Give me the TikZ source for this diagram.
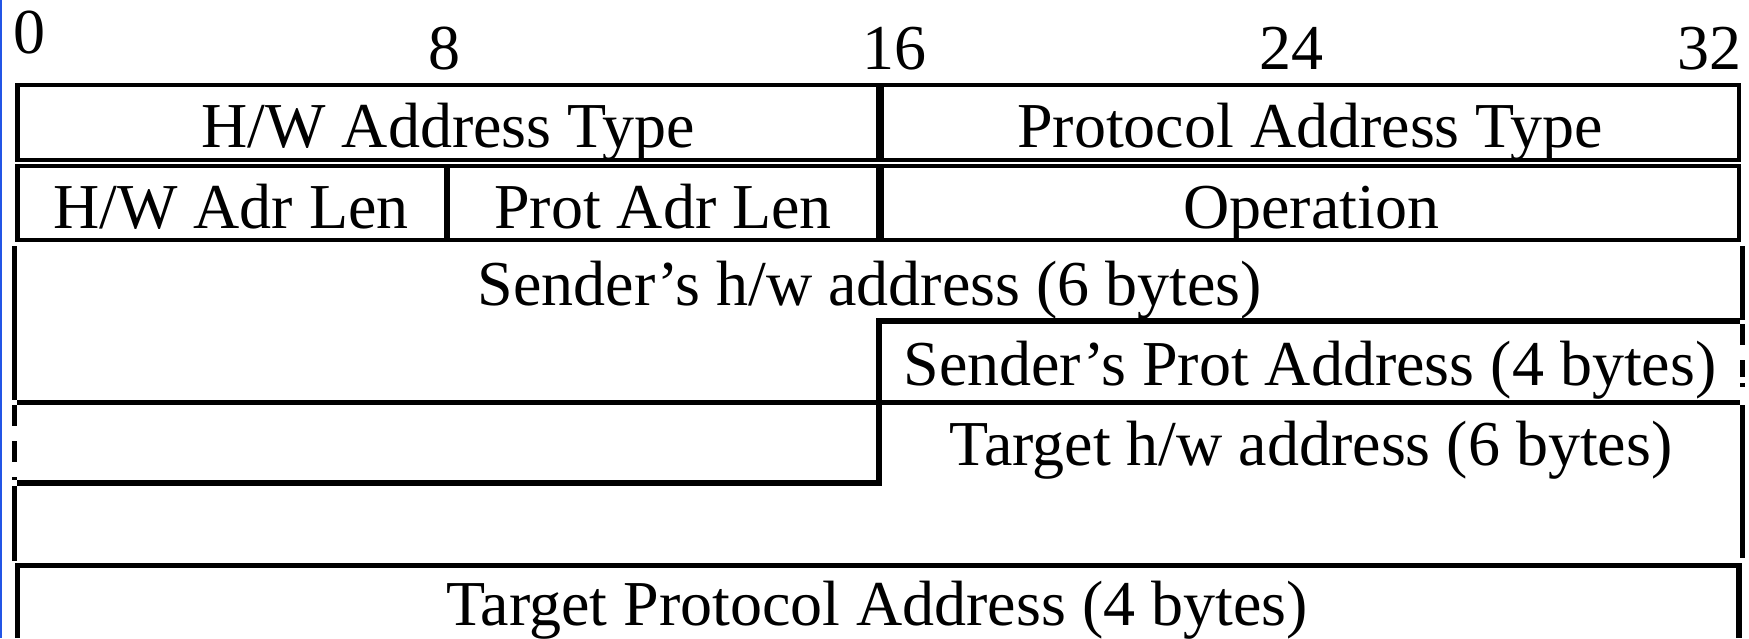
\documentclass[tikz,border=0pt]{standalone}
\usepackage{fontspec}
\setmainfont{Liberation Serif}
\usepackage{tikz, xcolor}
\definecolor{slideblue}{RGB}{35,85,230}

\begin{document}
\begin{tikzpicture}[x=0.01cm, y=-0.01cm,
    font=\fontsize{18.2}{22}\selectfont,
    boxline/.style={line width=1.3pt},
    edgeline/.style={line width=1.5pt},
    lbl/.style={anchor=base, inner sep=0pt}]
    \useasboundingbox (0, 0) rectangle (1749, 638);

    \draw [color=slideblue, line width=0.6pt] (1, 0) to (1, 638);

    \node [lbl, anchor=base west] (bit0) at (13, 53) {0};
    \node [lbl] (bit8) at (444, 69) {8};
    \node [lbl] (bit16) at (894, 69) {16};
    \node [lbl] (bit24) at (1291, 69) {24};
    \node [lbl] (bit32) at (1709, 69) {32};

    \draw [boxline] (17.5, 85) rectangle (878, 160);
    \draw [boxline] (882, 85) rectangle (1739, 160);
    \draw [boxline] (17.5, 166) rectangle (446, 240);
    \draw [boxline] (448, 166) rectangle (878, 240);
    \draw [boxline] (882, 166) rectangle (1739, 240);

    \node [lbl] (hwtype) at (448, 147) {H/W Address Type};
    \node [lbl] (prtype) at (1310, 147) {Protocol Address Type};
    \node [lbl] (hwlen) at (231, 228) {H/W Adr Len};
    \node [lbl] (prlen) at (663, 228) {Prot Adr Len};
    \node [lbl] (oper) at (1311, 228) {Operation};

    \draw [edgeline] (14.5, 246) to (14.5, 400);
    \draw [edgeline] (1742.5, 246) to (1742.5, 320);
    \draw [edgeline] (1740, 321) -- (879, 321) -- (879, 400);
    \draw [edgeline] (17, 402.5) to (1740, 402.5);
    \draw [edgeline] (879, 405) -- (879, 483) -- (17, 483);

    \draw [edgeline] (14.5, 405) to (14.5, 426);
    \draw [edgeline] (14.5, 441) to (14.5, 462);
    \draw [edgeline] (14.5, 477) to (14.5, 480);
    \draw [edgeline] (14.5, 486) to (14.5, 561);

    \draw [edgeline] (1742.5, 324) to (1742.5, 345);
    \draw [edgeline] (1742.5, 360) to (1742.5, 377);
    \draw [edgeline] (1742.5, 383) to (1742.5, 387);
    \draw [edgeline] (1742.5, 405) to (1742.5, 558);

    \draw [edgeline] (17.5, 638) -- (17.5, 565.5) -- (1739, 565.5) -- (1739, 638);

    \node [lbl] (sndhw) at (870, 305) {Sender’s h/w address (6 bytes)};
    \node [lbl] (sndpr) at (1310, 385) {Sender’s Prot Address (4 bytes)};
    \node [lbl] (tgthw) at (1311, 465) {Target h/w address (6 bytes)};
    \node [lbl] (tgtpr) at (877, 625) {Target Protocol Address (4 bytes)};

  \end{tikzpicture}
\end{document}
